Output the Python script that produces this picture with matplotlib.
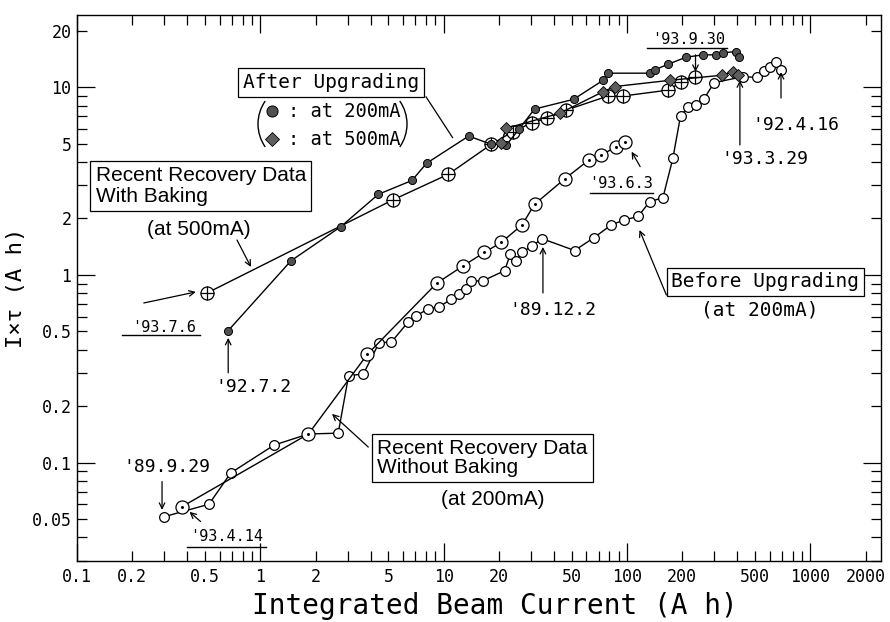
import numpy as np
import matplotlib.pyplot as plt
from matplotlib.patches import Arc
from matplotlib.ticker import FixedLocator, FuncFormatter

# Antes de la mejora (200mA) - circulos abiertos
antesX = [0.30, 0.525, 0.689, 1.19, 1.83, 2.66, 3.03, 3.65, 4.45, 5.18, 6.41, 7.06, 8.22, 9.48,
          11.0, 12.2, 13.3, 14.1, 16.3, 21.5, 23.1, 24.9, 26.8, 30.4, 34.5, 51.8, 66.0, 82.2,
          96.0, 115, 133, 157, 178, 196, 215, 239, 262, 299, 430, 513, 558, 602, 650, 692]
antesY = [0.0515, 0.060, 0.088, 0.124, 0.142, 0.1435, 0.29, 0.297, 0.436, 0.438, 0.562, 0.605,
          0.659, 0.678, 0.742, 0.789, 0.839, 0.929, 0.929, 1.054, 1.29, 1.19, 1.32, 1.43, 1.56,
          1.35, 1.58, 1.85, 1.96, 2.05, 2.46, 2.58, 4.19, 7.06, 7.82, 8.05, 8.63, 10.6, 11.4,
          11.3, 12.2, 12.9, 13.6, 12.4]

# Recuperacion sin horneado (200mA) - circulo con punto
sinBakeX = [0.375, 1.83, 3.84, 9.16, 12.8, 16.7, 20.6, 26.8, 31.3, 45.7, 62.0, 72.5, 87.5, 97.2]
sinBakeY = [0.0583, 0.142, 0.378, 0.903, 1.12, 1.32, 1.49, 1.85, 2.38, 3.25, 4.10, 4.36, 4.83, 5.13]

# Recuperacion con horneado (500mA) - circulo con cruz
conBakeX = [0.51, 5.27, 10.6, 18.2, 23.8, 30.4, 36.6, 46.7, 78.7, 95.1, 168, 198, 236]
conBakeY = [0.80, 2.51, 3.44, 4.97, 5.80, 6.48, 6.84, 7.57, 8.99, 8.99, 9.67, 10.7, 11.3]

# Despues de la mejora a 200mA - circulos llenos
despues200X = [0.668, 1.47, 2.75, 4.40, 6.72, 8.07, 13.7, 18.2, 20.6, 22.0, 25.7, 31.3, 51.1,
               74.0, 78.7, 133, 142, 168, 211, 260, 305, 335, 391, 408]
despues200Y = [0.505, 1.19, 1.81, 2.69, 3.19, 3.94, 5.50, 4.97, 5.03, 4.93, 5.97, 7.66, 8.63,
               10.9, 11.9, 11.9, 12.4, 13.3, 14.5, 14.9, 14.9, 15.3, 15.5, 14.6]

# Despues de la mejora a 500mA - rombos
despues500X = [20.6, 21.9, 42.9, 74.0, 85.7, 171, 328, 380, 405]
despues500Y = [5.03, 6.05, 7.27, 9.48, 10.1, 10.9, 11.6, 12.1, 11.6]

ticksX = [0.1, 1, 10, 100, 1000]
ticksY = [0.1, 1, 10]
etiquetasX = [0.1, 0.2, 0.5, 1, 2, 5, 10, 20, 50, 100, 200, 500, 1000, 2000]
etiquetasY = [0.05, 0.1, 0.2, 0.5, 1, 2, 5, 10, 20]

mono = 'DejaVu Sans Mono'
sans = 'Liberation Sans'

fig = plt.figure(figsize=(8.9, 6.22), dpi=100)
ax = fig.add_axes([0.0865, 0.0986, 0.9034, 0.8778])
ax.set_xscale('log')
ax.set_yscale('log')
ax.set_xlim(0.1, 2430)
ax.set_ylim(0.030, 24.4)

gris = '#505050'


def graficarCirculo(x, y, interior, tam):
    ax.plot(x, y, '-', color='k', lw=1.0, marker='o', ms=9.4, mfc='white', mec='k', mew=0.9, zorder=3)
    ax.plot(x, y, ls='none', marker=interior, ms=tam, color='k', mew=0.9, zorder=4)


ax.plot(antesX, antesY, '-', color='k', lw=1.0, marker='o', ms=7.0, mfc='white', mec='k', mew=0.9, zorder=2)
graficarCirculo(sinBakeX, sinBakeY, '.', 2.5)
graficarCirculo(conBakeX, conBakeY, '+', 9.4)
ax.plot(despues200X, despues200Y, '-', color='k', lw=1.0, marker='o', ms=5.8, mfc=gris, mec='k', mew=0.7, zorder=5)
ax.plot(despues500X, despues500Y, '-', color='k', lw=1.0, marker='D', ms=6.0, mfc='#5e5e5e', mec='k', mew=0.6, zorder=5)

# ejes y ticks
ax.xaxis.set_major_locator(FixedLocator(ticksX))
ax.yaxis.set_major_locator(FixedLocator(ticksY))
minX = [m * d for d in [0.1, 1, 10, 100, 1000] for m in range(2, 10) if m * d < 2430]
minY = [m * d for d in [0.01, 0.1, 1, 10] for m in range(2, 10) if 0.03 <= m * d < 24.4]
ax.xaxis.set_minor_locator(FixedLocator(minX))
ax.yaxis.set_minor_locator(FixedLocator(minY))


def formato(lista):
    def f(v, pos):
        for e in lista:
            if abs(v - e) / e < 1e-6:
                return ('%g' % e)
        return ''
    return FuncFormatter(f)


for eje, lista in [(ax.xaxis, etiquetasX), (ax.yaxis, etiquetasY)]:
    eje.set_major_formatter(formato(lista))
    eje.set_minor_formatter(formato(lista))

ax.tick_params(which='both', direction='in', top=True, right=True, width=0.9)
ax.tick_params(which='major', length=13)
ax.tick_params(which='minor', length=7)
ax.tick_params(axis='x', which='both', pad=5)
ax.tick_params(axis='y', which='both', pad=4)
for lbl in ax.get_xticklabels(which='both') + ax.get_yticklabels(which='both'):
    lbl.set_fontfamily(mono)
    lbl.set_fontsize(12)
for s in ax.spines.values():
    s.set_linewidth(1.0)

ax.set_xlabel('Integrated Beam Current (A h)', fontfamily=mono, fontsize=20)
ax.xaxis.set_label_coords(0.52, -0.058)
ax.set_ylabel('I×τ (A h)', fontfamily=mono, fontsize=16, labelpad=4)

caja = dict(boxstyle='square,pad=0.25', fc='white', ec='k', lw=0.9)
flecha = dict(arrowstyle='->', lw=0.9, color='k', shrinkA=0, shrinkB=0)
linea = dict(arrowstyle='-', lw=0.9, color='k', shrinkA=0, shrinkB=0)

# After Upgrading
ax.text(2.43, 10.6, 'After Upgrading', family=mono, fontsize=14, ha='center', va='center', bbox=caja, zorder=6)
ax.annotate('', xy=(11.2, 5.39), xytext=(8.01, 8.91), arrowprops=linea)
# parentesis finos alrededor de la leyenda (en pulgadas de la figura)
fig.add_artist(Arc((2.98, 4.98), 0.8, 0.8, theta1=145, theta2=215, lw=1.0, color='k',
                   transform=fig.dpi_scale_trans))
fig.add_artist(Arc((3.67, 4.98), 0.8, 0.8, theta1=-35, theta2=35, lw=1.0, color='k',
                   transform=fig.dpi_scale_trans))
ax.plot([1.16], [7.48], marker='o', ms=8, mfc=gris, mec='k', mew=0.7, clip_on=False)
ax.plot([1.16], [5.28], marker='D', ms=7, mfc='#5e5e5e', mec='k', mew=0.6, clip_on=False)
ax.text(1.42, 7.48, ': at 200mA', family=mono, fontsize=13.5, ha='left', va='center')
ax.text(1.42, 5.28, ': at 500mA', family=mono, fontsize=13.5, ha='left', va='center')

# With Baking
ax.text(0.1265, 2.98, 'Recent Recovery Data\nWith Baking', family=sans, fontsize=15,
        ha='left', va='center', linespacing=1.1, bbox=caja)
ax.text(0.459, 1.74, '(at 500mA)', family=sans, fontsize=15, ha='center', va='center')
ax.annotate('', xy=(0.889, 1.103), xytext=(0.746, 1.536), arrowprops=flecha)

# Without Baking
ax.text(4.34, 0.106, 'Recent Recovery Data\nWithout Baking', family=sans, fontsize=15,
        ha='left', va='center', linespacing=1.0, bbox=caja)
ax.text(18.5, 0.0633, '(at 200mA)', family=sans, fontsize=15, ha='center', va='center')
ax.annotate('', xy=(2.46, 0.1817), xytext=(3.88, 0.121), arrowprops=flecha)

# Before Upgrading
ax.text(569, 0.918, 'Before Upgrading', family=mono, fontsize=14, ha='center', va='center', bbox=caja)
ax.text(531, 0.651, '(at 200mA)', family=mono, fontsize=14, ha='center', va='center')
ax.annotate('', xy=(117, 1.736), xytext=(164, 0.782), arrowprops=flecha)

# fechas
fechas = [
    ("'93.7.6", (0.298, 0.528), 11, (0.445, 0.812), (0.2314, 0.709), (0.1757, 0.468, 0.479)),
    ("'92.7.2", (0.912, 0.253), 13, (0.668, 0.462), (0.668, 0.301), None),
    ("'89.9.29", (0.309, 0.0948), 13, (0.291, 0.056), (0.291, 0.0792), None),
    ("'93.4.14", (0.653, 0.0402), 11, (0.411, 0.0546), (0.472, 0.0485), (0.3977, 1.074, 0.0356)),
    ("'89.12.2", (39.3, 0.651), 13, (34.8, 1.41), (34.8, 0.802), None),
    ("'93.6.3", (92.9, 3.09), 11, (106, 4.54), (118, 3.78), (62.5, 138, 2.745)),
    ("'93.9.30", (217, 17.9), 11, (236.5, 12.1), (236.5, 14.9), (128, 351, 16.3)),
    ("'92.4.16", (831, 6.30), 13, (692, 12.06), (692, 8.77), None),
    ("'93.3.29", (565, 4.15), 13, (413, 10.9), (413, 4.93), None),
]
for texto, pos, tam, punta, cola, subrayado in fechas:
    ax.text(pos[0], pos[1], texto, family=mono, fontsize=tam, ha='center', va='center')
    ax.annotate('', xy=punta, xytext=cola, arrowprops=flecha)
    if subrayado is not None:
        ax.plot([subrayado[0], subrayado[1]], [subrayado[2], subrayado[2]], color='k', lw=1.0)

plt.savefig('out.png', dpi=100)
